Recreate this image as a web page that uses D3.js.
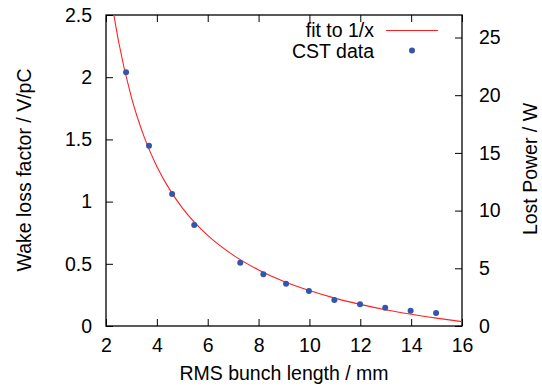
<!DOCTYPE html>
<html>
<head>
<meta charset="utf-8">
<script src="https://cdn.jsdelivr.net/npm/d3@7"></script>
<style>
  body { margin: 0; background: #fff; }
  text { font-family: "Liberation Sans", Arial, sans-serif; font-size: 19.5px; fill: #000; }
</style>
</head>
<body>
<div id="chart"></div>
<script>
var w = 542;
var h = 389;

// CST simulation points: rms bunch length (mm) vs wake loss factor (V/pC)
var bunchLength = [2.79, 3.69, 4.6, 5.47, 7.28, 8.19, 9.08, 9.98, 10.98, 11.99, 12.98, 13.98, 14.98];
var lossFactor  = [2.04, 1.448, 1.062, 0.8125, 0.509, 0.416, 0.34, 0.282, 0.209, 0.175, 0.147, 0.123, 0.105];

// fitted curve
var fitX = [2.3, 2.5, 3, 3.5, 4, 4.5, 5, 6, 7, 8, 9, 10, 11, 12, 13, 14, 15, 16];
var fitY = [2.512, 2.281, 1.837, 1.52, 1.283, 1.098, 0.95, 0.728, 0.57, 0.451, 0.358, 0.285, 0.224, 0.174, 0.131, 0.094, 0.063, 0.035];

var xTicks  = [2, 4, 6, 8, 10, 12, 14, 16];
var yTicks  = [0, 0.5, 1, 1.5, 2, 2.5];
var y2Ticks = [0, 5, 10, 15, 20, 25];

var pl = 106, pr = 462, pt = 15, pb = 326;

var x = d3.scaleLinear().domain([2, 16]).range([pl, pr]);
var y = d3.scaleLinear().domain([0, 2.5]).range([pb, pt]);
var y2 = d3.scaleLinear().domain([0, 26.95]).range([pb, pt]);

var fmt = function(d) { return String(d); };

var svg = d3.select("#chart")
            .append("svg")
            .attr("width", w)
            .attr("height", h);

svg.append("clipPath").attr("id", "clip")
   .append("rect")
   .attr("x", pl).attr("y", pt)
   .attr("width", pr - pl).attr("height", pb - pt);

// axes, gnuplot style: ticks pointing inward
var tick = 7;

var bottomAxis = svg.append("g")
    .attr("transform", "translate(0," + pb + ")")
    .call(d3.axisBottom(x).tickValues(xTicks).tickFormat(fmt).tickSizeInner(-tick).tickSizeOuter(0).tickPadding(12));
var topAxis = svg.append("g")
    .attr("transform", "translate(0," + pt + ")")
    .call(d3.axisTop(x).tickValues(xTicks).tickSizeInner(-tick).tickSizeOuter(0).tickFormat(""));
var leftAxis = svg.append("g")
    .attr("transform", "translate(" + pl + ",0)")
    .call(d3.axisLeft(y).tickValues(yTicks).tickFormat(fmt).tickSizeInner(-tick).tickSizeOuter(0).tickPadding(14));
var rightAxis = svg.append("g")
    .attr("transform", "translate(" + pr + ",0)")
    .call(d3.axisRight(y2).tickValues(y2Ticks).tickFormat(fmt).tickSizeInner(-tick).tickSizeOuter(0).tickPadding(17));

[bottomAxis, topAxis, leftAxis, rightAxis].forEach(function(g) {
  g.select(".domain").remove();
  g.selectAll("line").attr("stroke", "#000").attr("stroke-width", 1);
  g.selectAll("text").attr("font-family", null).attr("font-size", null).attr("fill", "#000");
});

svg.append("rect")
   .attr("x", pl).attr("y", pt)
   .attr("width", pr - pl).attr("height", pb - pt)
   .attr("fill", "none")
   .attr("stroke", "#000")
   .attr("stroke-width", 1.3);

// fit line
var line = d3.line()
    .x(function(d, i) { return x(fitX[i]); })
    .y(function(d) { return y(d); })
    .curve(d3.curveMonotoneX);

svg.append("path")
   .datum(fitY)
   .attr("clip-path", "url(#clip)")
   .attr("d", line)
   .attr("fill", "none")
   .attr("stroke", "#ff2020")
   .attr("stroke-width", 1.1);

// data points
svg.selectAll("circle.pt")
   .data(lossFactor)
   .enter()
   .append("circle")
   .attr("class", "pt")
   .attr("cx", function(d, i) { return x(bunchLength[i]); })
   .attr("cy", function(d) { return y(d); })
   .attr("r", 3)
   .attr("fill", "#3355aa");

// legend
svg.append("text").attr("x", 374).attr("y", 37).attr("text-anchor", "end").text("fit to 1/x");
svg.append("line").attr("x1", 386).attr("x2", 438).attr("y1", 30.5).attr("y2", 30.5)
   .attr("stroke", "#ff2020").attr("stroke-width", 1.1);
svg.append("text").attr("x", 374).attr("y", 57.5).attr("text-anchor", "end").text("CST data");
svg.append("circle").attr("cx", 412).attr("cy", 50.5).attr("r", 3).attr("fill", "#3355aa");

// axis titles
svg.append("text")
   .attr("x", (pl + pr) / 2).attr("y", 380)
   .attr("text-anchor", "middle")
   .text("RMS bunch length / mm");

svg.append("text")
   .attr("transform", "translate(31," + 170 + ") rotate(-90)")
   .attr("text-anchor", "middle")
   .text("Wake loss factor / V/pC");

svg.append("text")
   .attr("transform", "translate(537," + 169 + ") rotate(-90)")
   .attr("text-anchor", "middle")
   .text("Lost Power / W");
</script>
</body>
</html>
